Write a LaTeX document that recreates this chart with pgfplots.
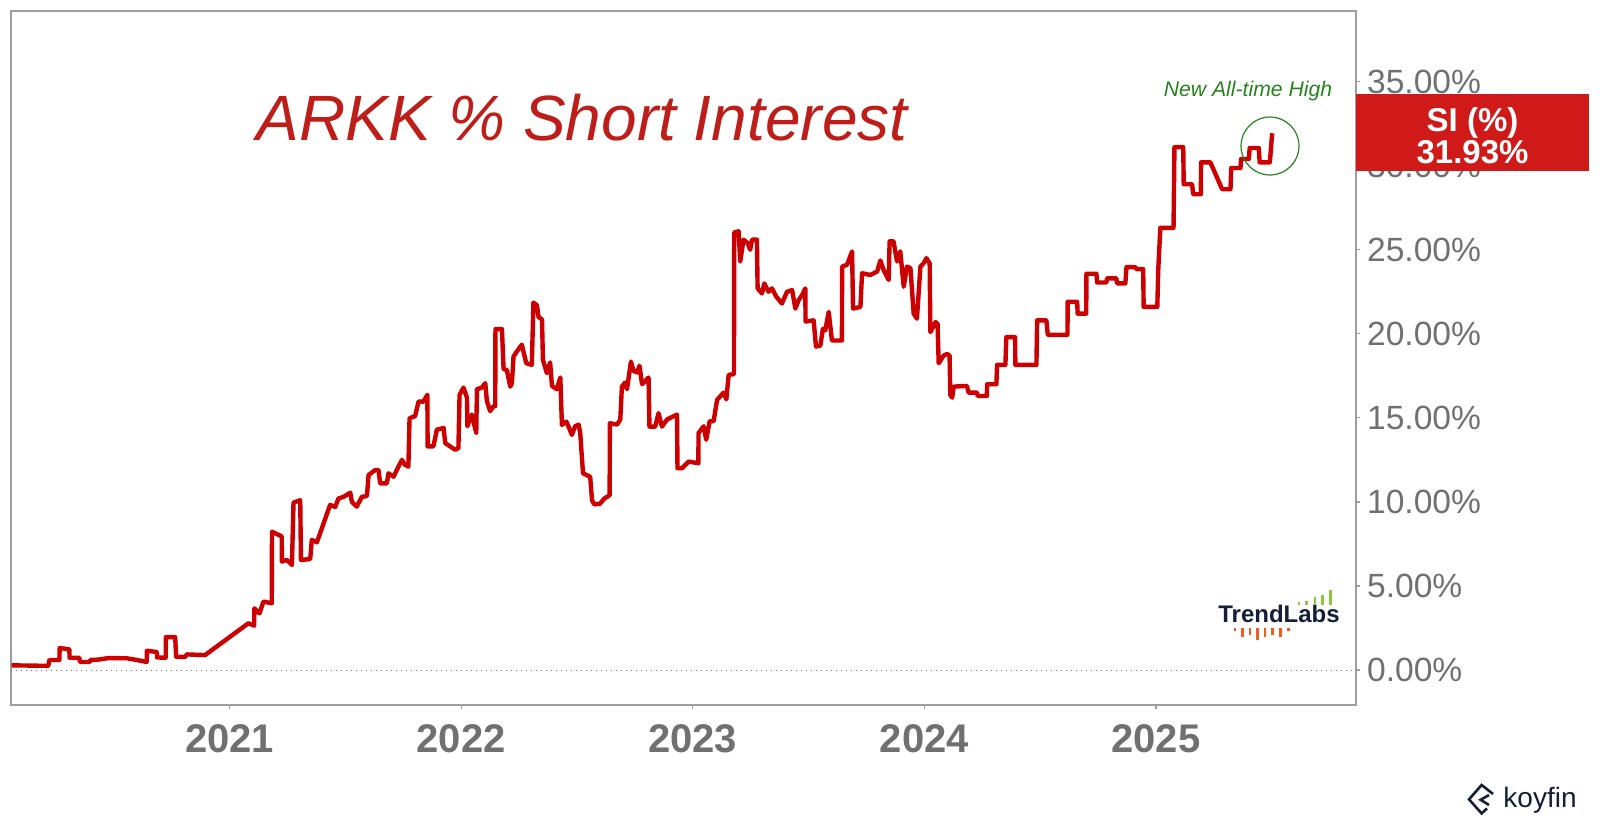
\documentclass[border=0pt]{standalone}
\usepackage{fontspec}
\setmainfont{Liberation Sans}
\usepackage{pgfplots}
\pgfplotsset{compat=1.18}

\definecolor{siRed}{RGB}{204,0,0}
\definecolor{titleRed}{RGB}{190,30,26}
\definecolor{boxRed}{RGB}{208,26,26}
\definecolor{athGreen}{RGB}{40,130,30}
\definecolor{tickGray}{RGB}{112,112,112}
\definecolor{frameGray}{RGB}{158,158,158}
\definecolor{navy}{RGB}{20,30,55}
\definecolor{logoGreen}{RGB}{140,198,63}
\definecolor{logoOrange}{RGB}{241,90,36}

\begin{document}
\begin{tikzpicture}
\path[use as bounding box] (0,0) rectangle (800pt,413.5pt);
\begin{axis}[
    at={(5.5pt,61pt)}, anchor=south west,
    scale only axis, width=672.5pt, height=347pt,
    xmin=2020.056, xmax=2025.864,
    ymin=-2.08, ymax=39.2,
    axis line style={frameGray, line width=0.7pt},
    tick style={frameGray, line width=0.6pt},
    tick align=outside, major tick length=2pt,
    xtick={2021,2022,2023,2024,2025},
    xticklabels={2021,2022,2023,2024,2025},
    xtick pos=bottom,
    xticklabel style={font=\fontsize{20}{24}\selectfont\bfseries, text=tickGray, yshift=-4pt},
    ytick={0,5,...,35},
    ytick pos=right, yticklabel pos=right,
    yticklabel={\pgfmathprintnumber[fixed,fixed zerofill,precision=2]{\tick}\%},
    yticklabel style={font=\fontsize{16.8}{20}\selectfont, text=tickGray, anchor=west},
    /pgf/number format/assume math mode=true,
    clip=false,
]
\draw[tickGray, dotted, line width=0.5pt] (axis cs:2020.056,0) -- (axis cs:2025.864,0);

\addplot[siRed, line width=2.2pt, line join=round] coordinates {
(2020.059,0.28)(2020.217,0.25)(2020.222,0.60)(2020.265,0.60)(2020.266,1.31)(2020.308,1.23)
(2020.309,0.73)(2020.351,0.73)(2020.354,0.48)(2020.397,0.48)(2020.398,0.60)(2020.433,0.62)
(2020.476,0.71)(2020.556,0.70)(2020.599,0.60)(2020.642,0.48)(2020.643,1.15)(2020.686,1.07)
(2020.687,0.75)(2020.724,0.73)(2020.725,1.96)(2020.765,1.96)(2020.769,0.79)(2020.808,0.78)
(2020.815,0.93)(2020.894,0.89)(2021.081,2.78)(2021.106,2.64)(2021.107,3.67)(2021.129,3.37)
(2021.146,4.07)(2021.182,3.97)(2021.183,8.23)(2021.225,7.95)(2021.226,6.45)(2021.247,6.55)
(2021.269,6.25)(2021.276,9.96)(2021.305,10.10)(2021.308,6.55)(2021.348,6.60)(2021.355,7.74)
(2021.377,7.60)(2021.434,9.82)(2021.456,9.70)(2021.470,10.20)(2021.492,10.30)(2021.521,10.55)
(2021.528,10.00)(2021.549,9.72)(2021.571,10.30)(2021.593,10.35)(2021.600,11.60)(2021.629,11.90)
(2021.643,11.90)(2021.650,11.10)(2021.679,11.10)(2021.686,11.70)(2021.708,11.50)(2021.722,11.90)
(2021.744,12.50)(2021.758,12.20)(2021.772,12.10)(2021.777,14.98)(2021.801,15.10)(2021.816,15.97)
(2021.837,15.97)(2021.854,16.37)(2021.855,13.30)(2021.880,13.30)(2021.895,14.30)(2021.924,14.40)
(2021.931,13.50)(2021.974,13.10)(2021.988,13.20)(2021.993,16.37)(2022.010,16.80)(2022.025,16.20)
(2022.027,14.50)(2022.046,15.20)(2022.065,14.10)(2022.068,16.70)(2022.089,16.80)(2022.104,17.06)
(2022.111,16.00)(2022.125,15.40)(2022.140,15.70)(2022.147,15.70)(2022.148,20.28)(2022.176,20.28)
(2022.183,17.90)(2022.197,17.85)(2022.212,16.86)(2022.219,17.06)(2022.226,18.65)(2022.248,19.10)
(2022.262,19.35)(2022.281,18.25)(2022.305,18.15)(2022.312,21.86)(2022.327,21.70)(2022.334,21.00)
(2022.349,20.85)(2022.353,18.45)(2022.370,17.66)(2022.384,18.30)(2022.392,16.90)(2022.413,16.70)
(2022.428,17.40)(2022.435,14.58)(2022.454,14.78)(2022.463,14.50)(2022.478,13.99)(2022.492,14.50)
(2022.507,14.60)(2022.514,14.10)(2022.526,11.70)(2022.557,11.50)(2022.565,10.10)(2022.575,9.85)
(2022.600,9.90)(2022.618,10.20)(2022.641,10.40)(2022.642,14.68)(2022.673,14.60)(2022.687,14.90)
(2022.694,16.86)(2022.708,17.10)(2022.716,16.70)(2022.733,18.35)(2022.744,17.80)(2022.759,17.70)
(2022.770,18.10)(2022.781,17.00)(2022.809,17.40)(2022.813,14.48)(2022.838,14.48)(2022.852,15.28)
(2022.867,14.48)(2022.889,14.90)(2022.932,15.20)(2022.934,12.00)(2022.953,12.00)(2022.982,12.40)
(2023.024,12.30)(2023.025,14.10)(2023.047,14.50)(2023.058,13.70)(2023.073,14.80)(2023.090,14.80)
(2023.105,16.07)(2023.133,16.50)(2023.145,16.10)(2023.155,17.56)(2023.178,17.60)(2023.179,26.03)
(2023.198,26.10)(2023.205,24.30)(2023.219,25.60)(2023.237,25.40)(2023.248,25.00)(2023.256,25.60)
(2023.277,25.60)(2023.280,22.70)(2023.299,22.40)(2023.309,23.00)(2023.327,22.50)(2023.342,22.70)
(2023.361,22.20)(2023.385,21.80)(2023.407,22.50)(2023.429,22.60)(2023.443,21.50)(2023.457,22.00)
(2023.472,22.30)(2023.486,22.70)(2023.487,20.73)(2023.522,20.80)(2023.532,19.24)(2023.551,19.30)
(2023.562,20.30)(2023.572,20.20)(2023.587,21.30)(2023.601,19.60)(2023.644,19.60)(2023.645,24.00)
(2023.666,24.10)(2023.688,24.90)(2023.692,21.50)(2023.724,21.60)(2023.731,23.60)(2023.767,23.50)
(2023.796,23.70)(2023.810,24.36)(2023.824,23.80)(2023.846,23.20)(2023.850,25.50)(2023.867,25.50)
(2023.882,24.30)(2023.896,24.90)(2023.911,22.80)(2023.925,24.00)(2023.940,23.90)(2023.954,21.20)
(2023.968,20.90)(2023.983,24.00)(2023.997,24.20)(2024.009,24.50)(2024.023,24.20)(2024.026,20.10)
(2024.048,20.70)(2024.057,20.60)(2024.062,18.25)(2024.083,18.70)(2024.098,18.80)(2024.109,18.70)
(2024.112,16.37)(2024.120,16.20)(2024.127,16.86)(2024.184,16.90)(2024.191,16.50)(2024.228,16.50)
(2024.230,16.30)(2024.270,16.30)(2024.271,17.00)(2024.311,17.00)(2024.314,18.15)(2024.350,18.15)
(2024.354,19.80)(2024.392,19.80)(2024.393,18.15)(2024.484,18.15)(2024.487,20.80)(2024.527,20.80)
(2024.533,19.94)(2024.618,19.94)(2024.619,21.90)(2024.660,21.90)(2024.662,21.20)(2024.699,21.20)
(2024.700,23.57)(2024.743,23.57)(2024.746,23.05)(2024.786,23.05)(2024.789,23.30)(2024.829,23.30)
(2024.832,23.00)(2024.868,23.00)(2024.873,23.97)(2024.911,23.97)(2024.916,23.85)(2024.945,23.85)
(2024.947,21.60)(2025.006,21.60)(2025.010,23.80)(2025.019,26.30)(2025.076,26.30)(2025.080,31.10)
(2025.118,31.10)(2025.120,28.90)(2025.156,28.90)(2025.161,28.30)(2025.194,28.30)(2025.195,30.20)
(2025.235,30.20)(2025.286,28.60)(2025.322,28.60)(2025.325,29.86)(2025.365,29.86)(2025.368,30.40)
(2025.401,30.40)(2025.405,31.05)(2025.444,31.05)(2025.448,30.20)(2025.492,30.20)(2025.502,31.93)
};
\end{axis}

% title and annotations
\node[anchor=base, text=titleRed, font=\fontsize{32}{38}\selectfont\itshape, inner sep=0pt]
  at (291pt,343.5pt) {ARKK \% Short Interest};
\node[anchor=base, text=athGreen, font=\fontsize{10.6}{12}\selectfont\itshape, inner sep=0pt]
  at (624pt,365.5pt) {New All-time High};
\draw[athGreen, line width=0.6pt] (635pt,340.5pt) circle (14.5pt);

% last value box
\fill[boxRed] (678pt,328pt) rectangle (794.5pt,366.5pt);
\node[anchor=base, text=white, font=\fontsize{16.5}{20}\selectfont\bfseries, inner sep=0pt]
  at (736.25pt,347.6pt) {SI (\%)};
\node[anchor=base, text=white, font=\fontsize{16.5}{20}\selectfont\bfseries, inner sep=0pt]
  at (736.25pt,331.8pt) {31.93\%};

% TrendLabs logo
\node[anchor=base, text=navy, font=\fontsize{12}{14}\selectfont\bfseries, inner sep=0pt]
  at (639.5pt,102.2pt) {TrendLabs};
\foreach \x/\h in {649.5/1.7, 653.3/2, 657.5/4.2, 661.3/5, 665.3/7.5}
  \fill[logoGreen] (\x pt-0.65pt,111pt) rectangle (\x pt+0.65pt,111pt+\h pt);
\foreach \x/\h in {617.5/1.3, 621.3/4.2, 625/3.3, 628.7/5.8, 632.5/4.2, 636.3/3.3, 640.3/4.2, 644.2/1.3}
  \fill[logoOrange] (\x pt-0.65pt,99.3pt) rectangle (\x pt+0.65pt,99.3pt-\h pt);

% koyfin logo
\draw[navy, line width=1.3pt, line join=miter]
  (746.5pt,16.5pt) -- (740.8pt,21pt) -- (734.5pt,13.8pt) -- (740.8pt,6.8pt) -- (743.5pt,9.3pt);
\draw[navy, line width=1.3pt, line join=miter]
  (744.5pt,16pt) -- (740.3pt,13.6pt) -- (744.5pt,11pt);
\node[anchor=base, text=navy, font=\fontsize{14}{16}\selectfont, inner sep=0pt]
  at (770pt,9.7pt) {koyfin};
\end{tikzpicture}
\end{document}
